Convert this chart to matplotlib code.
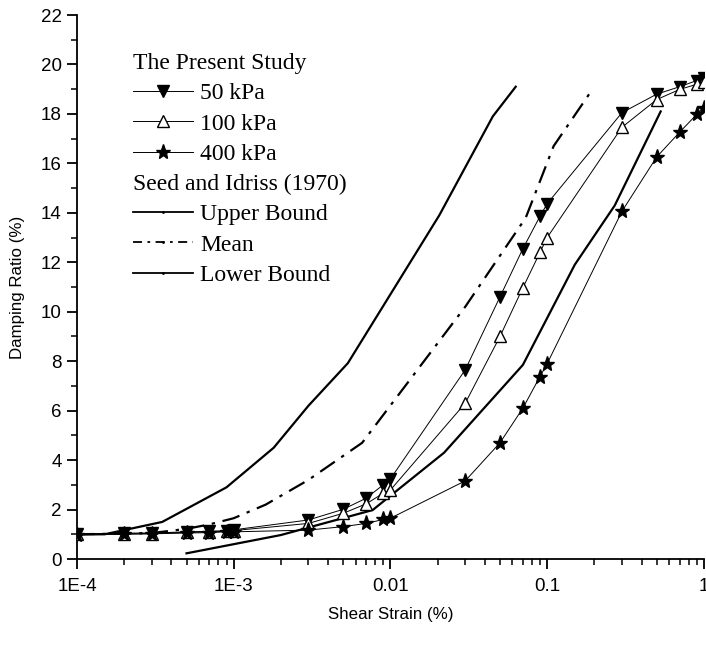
import numpy as np
import matplotlib
matplotlib.use("Agg")
import matplotlib.pyplot as plt
from matplotlib.lines import Line2D
from matplotlib.ticker import FixedLocator, FixedFormatter, LogLocator, NullFormatter, MultipleLocator

# present study: shear strain (%) and damping ratio (%)
strain = [1e-4, 2e-4, 3e-4, 5e-4, 7e-4, 9e-4, 1e-3, 3e-3, 5e-3, 7e-3, 9e-3, 0.01,
          0.03, 0.05, 0.07, 0.09, 0.1, 0.3, 0.5, 0.7, 0.9, 1.0]
d_50 = [1.0, 1.05, 1.05, 1.1, 1.12, 1.15, 1.18, 1.58, 2.01, 2.46, 3.0, 3.24,
        7.65, 10.6, 12.55, 13.86, 14.37, 18.05, 18.8, 19.1, 19.35, 19.45]
d_100 = [1.0, 1.02, 1.03, 1.08, 1.1, 1.12, 1.15, 1.44, 1.85, 2.23, 2.66, 2.79,
         6.3, 9.0, 10.97, 12.4, 13.0, 17.46, 18.58, 18.99, 19.2, 19.3]
d_400 = [0.98, 1.0, 1.02, 1.05, 1.07, 1.1, 1.1, 1.17, 1.31, 1.44, 1.6, 1.65,
         3.16, 4.7, 6.1, 7.38, 7.9, 14.06, 16.26, 17.26, 17.98, 18.26]

# Seed and Idriss (1970)
up_x = [1e-4, 1.5e-4, 3.5e-4, 9e-4, 1.8e-3, 3e-3, 5.35e-3, 0.0205, 0.045, 0.063]
up_y = [1.0, 1.0, 1.5, 2.9, 4.5, 6.2, 7.92, 13.9, 17.9, 19.1]
mean_x = [1e-4, 3e-4, 5e-4, 7e-4, 1e-3, 1.6e-3, 3e-3, 6.6e-3, 0.03, 0.073, 0.11, 0.19]
mean_y = [1.0, 1.05, 1.22, 1.4, 1.65, 2.2, 3.2, 4.7, 10.2, 13.8, 16.7, 18.9]
lo_x = [5e-4, 2e-3, 7.7e-3, 0.022, 0.07, 0.15, 0.27, 0.53]
lo_y = [0.23, 0.97, 1.98, 4.3, 7.85, 11.9, 14.3, 18.1]

plt.rcParams['font.family'] = ['Liberation Sans', 'DejaVu Sans']

fig = plt.figure(figsize=(7.06, 6.45), dpi=100)
ax = fig.add_axes([0.109, 0.1333, 0.888, 0.8434])

lw_s = 1.6
ax.plot(up_x, up_y, color='black', lw=lw_s, zorder=2)
ax.plot(mean_x, mean_y, color='black', lw=lw_s, ls=(0, (8, 3.5, 1.5, 3.5)), zorder=2)
ax.plot(lo_x, lo_y, color='black', lw=lw_s, zorder=2)

ms = 9
ax.plot(strain, d_50, color='black', lw=0.7, marker='v', ms=ms, mfc='black', mec='black', zorder=3)
ax.plot(strain, d_100, color='black', lw=0.7, marker='^', ms=ms, mfc='white', mec='black', mew=1.0, zorder=4)
ax.plot(strain, d_400, color='black', lw=0.7, marker='*', ms=ms + 2, mfc='black', mec='black', zorder=5)

ax.set_xscale('log')
ax.set_xlim(1e-4, 1.0)
ax.set_ylim(0, 22)
ax.xaxis.set_major_locator(FixedLocator([1e-4, 1e-3, 1e-2, 1e-1, 1.0]))
ax.xaxis.set_major_formatter(FixedFormatter(['1E-4', '1E-3', '0.01', '0.1', '1']))
ax.xaxis.set_minor_locator(LogLocator(base=10, subs=np.arange(2, 10)))
ax.xaxis.set_minor_formatter(NullFormatter())
ax.yaxis.set_major_locator(MultipleLocator(2))
ax.yaxis.set_minor_locator(MultipleLocator(1))

for s in ['top', 'right']:
    ax.spines[s].set_visible(False)
for s in ['left', 'bottom']:
    ax.spines[s].set_linewidth(1.3)
ax.tick_params(which='major', direction='out', length=7, width=1.3, labelsize=13.5)
ax.tick_params(which='minor', direction='out', length=4, width=1.1)
ax.tick_params(axis='x', which='major', pad=7)
ax.tick_params(axis='y', which='major', pad=4)

ax.set_xlabel('Shear Strain (%)', fontsize=12.2, labelpad=8)
ax.set_ylabel('Damping Ratio (%)', fontsize=12.2, labelpad=11)

# legend
h1 = [Line2D([], [], color='black', lw=0.7, marker='v', ms=ms, mfc='black'),
      Line2D([], [], color='black', lw=0.7, marker='^', ms=ms, mfc='white'),
      Line2D([], [], color='black', lw=0.7, marker='*', ms=ms + 2, mfc='black')]
h2 = [Line2D([], [], color='black', lw=1.3, marker='.', ms=2),
      Line2D([], [], color='black', lw=1.3, ls=(0, (5, 3, 1.5, 3)), marker='.', ms=2),
      Line2D([], [], color='black', lw=1.3, marker='.', ms=2)]
lfont = {'family': 'Liberation Serif', 'size': 17}
common = dict(prop=lfont, title_fontproperties=lfont, frameon=False, loc='upper left',
              handlelength=2.55, handletextpad=0.3, labelspacing=0.37, borderpad=0,
              borderaxespad=0, alignment='left', markerscale=1.0)
leg1 = ax.legend(h1, ['50 kPa', '100 kPa', '400 kPa'], title='The Present Study',
                 bbox_to_anchor=(0.089, 0.93), **common)
ax.add_artist(leg1)
leg2 = ax.legend(h2, ['Upper Bound', 'Mean', 'Lower Bound'], title='Seed and Idriss (1970)',
                 bbox_to_anchor=(0.089, 0.708), **common)

fig.savefig('out.png', dpi=100)
